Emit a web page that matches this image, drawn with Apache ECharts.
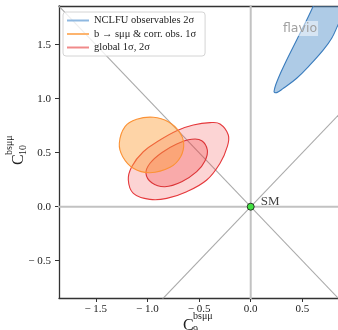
<!DOCTYPE html>
<html>
<head>
<meta charset="utf-8">
<script src="https://cdn.jsdelivr.net/npm/echarts@6/dist/echarts.min.js"></script>
<style>
  html, body { margin: 0; padding: 0; background: #fff; }
  #chart { width: 338px; height: 330px; }
</style>
</head>
<body>
<div id="chart"></div>
<script>
// axis ranges, C9 (x) and C10 (y)
const xRange = [-1.856, 0.845]
const yRange = [-0.845, 1.858]
const xTicks = [-1.5, -1.0, -0.5, 0.0, 0.5]
const yTicks = [-0.5, 0.0, 0.5, 1.0, 1.5]

// contour outlines, [C9, C10]
const nclfu2s = [
  [0.226, 1.065], [0.267, 1.189], [0.348, 1.358], [0.445, 1.544], [0.542, 1.729],
  [0.606, 1.858], [0.66, 1.98], [0.86, 2.02], [0.92, 1.83], [0.845, 1.682],
  [0.784, 1.559], [0.703, 1.451], [0.574, 1.312], [0.445, 1.189], [0.316, 1.096],
  [0.252, 1.056]
]
const bsmumu1s = [
  [-1.272, 0.587], [-1.217, 0.741], [-1.104, 0.809], [-0.943, 0.828], [-0.798, 0.787],
  [-0.691, 0.694], [-0.649, 0.587], [-0.678, 0.463], [-0.781, 0.365], [-0.975, 0.315],
  [-1.136, 0.356], [-1.239, 0.463]
]
const global2s = [
  [-0.217, 0.664], [-0.297, 0.766], [-0.394, 0.778], [-0.556, 0.756], [-0.716, 0.704],
  [-0.878, 0.618], [-1.040, 0.509], [-1.152, 0.370], [-1.185, 0.247], [-1.136, 0.124],
  [-0.975, 0.068], [-0.813, 0.077], [-0.620, 0.139], [-0.426, 0.247], [-0.297, 0.402],
  [-0.227, 0.556]
]
const global1s = [
  [-0.420, 0.525], [-0.474, 0.611], [-0.571, 0.624], [-0.716, 0.581], [-0.862, 0.500],
  [-0.975, 0.402], [-1.014, 0.309], [-0.958, 0.222], [-0.830, 0.185], [-0.668, 0.231],
  [-0.523, 0.324], [-0.442, 0.426]
]

// Standard Model point and guide lines
const smPoint = [[0, 0]]
const diagUp = [[-3, -3], [3, 3]]
const diagDown = [[-3, 3], [3, -3]]
const vLine = [[0, -3], [0, 3]]
const hLine = [[-3, 0], [3, 0]]

const serif = '"Liberation Serif", "DejaVu Serif", serif'
const nameBlue = 'NCLFU observables 2σ'
const nameOrange = 'b → sμμ & corr. obs. 1σ'
const nameRed = 'global 1σ, 2σ'

const contour = (name, pts, fill, stroke, legendColor, z) => ({
  name,
  type: 'custom',
  data: pts,
  z,
  itemStyle: {color: legendColor},
  encode: {x: 0, y: 1},
  renderItem: (params, api) => {
    if (params.dataIndex !== 0) return null
    const cs = params.coordSys
    return {
      type: 'polygon',
      shape: {points: pts.map(p => api.coord(p)), smooth: 0.4},
      style: {fill, stroke, lineWidth: 1.1},
      clipPath: {type: 'rect', shape: {x: cs.x, y: cs.y, width: cs.width, height: cs.height}}
    }
  }
})

const guide = (data, color, width) => ({
  type: 'line',
  data,
  symbol: 'none',
  silent: true,
  z: 1,
  lineStyle: {color, width}
})

// axis title with stacked super- and subscript
const axisTitle = (x, y, rotation, sub) => ({
  type: 'group',
  x, y, rotation,
  silent: true,
  children: [
    {type: 'text', x: 0, y: 0, style: {text: 'C', font: '16px ' + serif, fill: '#222', verticalAlign: 'middle'}},
    {type: 'text', x: 10, y: -9, style: {text: 'bsμμ', font: '10px ' + serif, fill: '#222', verticalAlign: 'middle'}},
    {type: 'text', x: 10, y: 5, style: {text: sub, font: '10px ' + serif, fill: '#222', verticalAlign: 'middle'}}
  ]
})

const fmt = v => (v < 0 ? '\u2212 ' : '') + Math.abs(v).toFixed(1)

const chart = echarts.init(document.getElementById('chart'))
chart.setOption({
  animation: false,
  backgroundColor: '#fff',
  grid: {left: 59, right: 0, top: 6, bottom: 32},
  title: {
    text: 'flavio',
    left: 282,
    top: 21,
    padding: [1, 1],
    backgroundColor: 'rgba(255,255,255,0.5)',
    textStyle: {fontFamily: '"DejaVu Sans", sans-serif', fontWeight: 'normal', fontSize: 12.5, color: '#a0a0a0'}
  },
  legend: {
    data: [nameBlue, nameOrange, nameRed],
    orient: 'vertical',
    left: 63,
    top: 12,
    padding: [3, 9, 3, 4],
    itemGap: 2.5,
    itemWidth: 22,
    itemHeight: 2,
    icon: 'rect',
    backgroundColor: 'rgba(255,255,255,0.8)',
    borderColor: '#d4d4d4',
    borderWidth: 1,
    borderRadius: 3,
    selectedMode: false,
    textStyle: {fontFamily: serif, fontSize: 10.5, color: '#222', lineHeight: 11}
  },
  xAxis: [{
    type: 'value',
    min: xRange[0],
    max: xRange[1],
    splitLine: {show: false},
    axisLine: {onZero: false, lineStyle: {color: '#333', width: 1.3}},
    axisTick: {customValues: xTicks, length: 4, lineStyle: {color: '#333'}},
    axisLabel: {customValues: xTicks, formatter: fmt, margin: 6, fontFamily: serif, fontSize: 11, color: '#222'}
  }, {
    type: 'value',
    position: 'top',
    min: xRange[0],
    max: xRange[1],
    splitLine: {show: false},
    axisLine: {onZero: false, lineStyle: {color: '#333', width: 1.3}},
    axisTick: {show: false},
    axisLabel: {show: false}
  }],
  yAxis: {
    type: 'value',
    min: yRange[0],
    max: yRange[1],
    splitLine: {show: false},
    axisLine: {onZero: false, lineStyle: {color: '#333', width: 1.3}},
    axisTick: {customValues: yTicks, length: 4, lineStyle: {color: '#333'}},
    axisLabel: {customValues: yTicks, formatter: fmt, margin: 8, fontFamily: serif, fontSize: 11, color: '#222'}
  },
  graphic: [
    axisTitle(183, 325.5, 0, '9'),
    axisTitle(18.5, 165, Math.PI / 2, '10')
  ],
  series: [
    guide(diagUp, '#aaaaaa', 1.1),
    guide(diagDown, '#aaaaaa', 1.1),
    guide(vLine, '#c2c2c2', 2),
    guide(hLine, '#c2c2c2', 2),
    contour(nameBlue, nclfu2s, 'rgba(75,140,200,0.45)', '#3a7cbd', '#8fb8e0', 3),
    contour(nameRed, global2s, 'rgba(240,60,60,0.22)', '#e5393c', '#f08a8a', 3),
    contour(nameRed, global1s, 'rgba(240,60,60,0.27)', '#dc3538', '#f08a8a', 4),
    contour(nameOrange, bsmumu1s, 'rgba(253,160,60,0.45)', '#fb9236', '#fdb46e', 5),
    {
      type: 'scatter',
      data: smPoint,
      z: 6,
      symbolSize: 7,
      itemStyle: {color: '#22e822', borderColor: '#111', borderWidth: 1},
      label: {show: true, formatter: 'SM', position: 'right', offset: [1, -5], fontFamily: serif, fontSize: 13, color: '#111'}
    }
  ]
})
</script>
</body>
</html>
